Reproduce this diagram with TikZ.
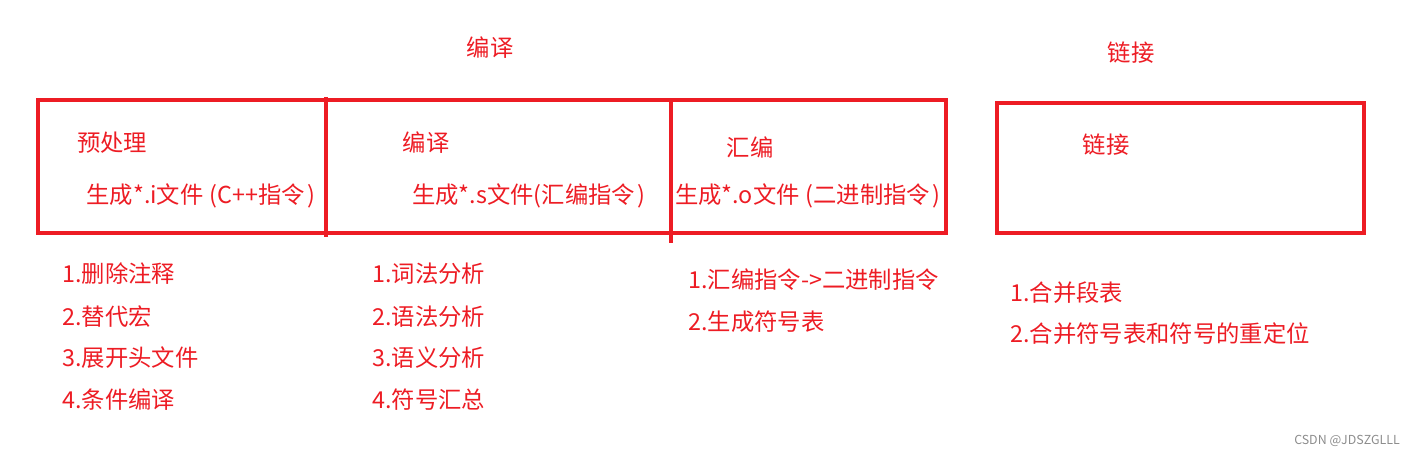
\documentclass[tikz,border=0pt]{standalone}
\usepackage{fontspec}
\setmainfont{Noto Sans CJK SC}
\definecolor{pen}{RGB}{237,28,36}
\newcommand{\pgap}{\hspace{0.25em}}
\newcommand{\qgap}{\hspace{0.12em}}
\begin{document}
\begin{tikzpicture}[x=0.75pt, y=-0.75pt,
  txt/.style={text=pen, inner sep=0pt, font=\fontsize{17.5}{21}\selectfont},
  item/.style={txt, anchor=west},
  frame/.style={draw=pen, line width=2.6pt},
  wmark/.style={text=black!45, inner sep=0pt, font=\fontsize{9.3}{11}\selectfont}]
  \useasboundingbox (0,0) rectangle (1421,457);
  % 外框: 左边一大块分三格, 右边一块
  \draw[frame] (38,100) rectangle (946,233);
  \draw[frame] (326,97) -- (326,237);
  \draw[frame] (671,100) -- (671,243);
  \draw[frame] (997,103) rectangle (1364,233);
  % 上面的两个标题
  \node[txt] (tcomp) at (490,48) {编译};
  \node[txt] (tlink) at (1131,53) {链接};
  % 格子里的字
  \node[txt] (h1) at (112,143) {预处理};
  \node[txt] (g1) at (201,196) {生成*.i文件\pgap(C++指令\qgap)};
  \node[txt] (h2) at (426,143) {编译};
  \node[txt] (g2) at (529,196) {生成*.s文件(汇编指令\qgap)};
  \node[txt] (h3) at (750,147) {汇编};
  \node[txt] (g3) at (808,196) {生成*.o文件\pgap(二进制指令\qgap)};
  \node[txt] (h4) at (1106,145) {链接};
  % 下面的说明
  \node[item] (s11) at (62,274) {1.删除注释};
  \node[item] (s12) at (62,317) {2.替代宏};
  \node[item] (s13) at (62,358) {3.展开头文件};
  \node[item] (s14) at (62,400) {4.条件编译};
  \node[item] (s21) at (372,274) {1.词法分析};
  \node[item] (s22) at (372,317) {2.语法分析};
  \node[item] (s23) at (372,358) {3.语义分析};
  \node[item] (s24) at (372,400) {4.符号汇总};
  \node[item] (s31) at (688,280) {1.汇编指令->二进制指令};
  \node[item] (s32) at (688,322) {2.生成符号表};
  \node[item] (s41) at (1010,293) {1.合并段表};
  \node[item] (s42) at (1010,334) {2.合并符号表和符号的重定位};
  \node[wmark] (wm) at (1347,441) {CSDN @JDSZGLLL};
\end{tikzpicture}
\end{document}
